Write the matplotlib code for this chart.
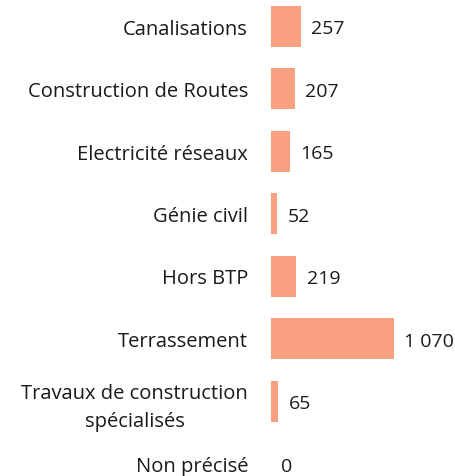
import matplotlib
matplotlib.use("Agg")
import matplotlib.pyplot as plt

plt.rcParams["font.family"] = ["Open Sans", "DejaVu Sans"]

# chart data
categories = [
    "Canalisations",
    "Construction de Routes",
    "Electricité réseaux",
    "Génie civil",
    "Hors BTP",
    "Terrassement",
    "Travaux de construction\nspécialisés",
    "Non précisé",
]
values = [257, 207, 165, 52, 219, 1070, 65, 0]

BAR_COLOR = "#F8A07F"
W, H = 456, 477

fig = plt.figure(figsize=(W / 100, H / 100), dpi=100)
ax = fig.add_axes([271 / W, 0, 123 / W, 1])

pos = range(len(categories))
ax.barh(pos, values, height=0.656, color=BAR_COLOR)
ax.set_xlim(0, 1070)
ax.set_ylim(7.2, -0.432)

ax.set_yticks(list(pos))
ax.set_yticklabels(categories, fontsize=14.5, color="#1a1a1a",
                   multialignment="center", linespacing=1.5)
ax.tick_params(axis="y", length=0, pad=16.5)
ax.set_xticks([])
for s in ax.spines.values():
    s.set_visible(False)

for i, v in enumerate(values):
    txt = f"{v:,}".replace(",", " ")
    ax.annotate(txt, (v, i), xytext=(7.5, -1.5), textcoords="offset points",
                ha="left", va="center", fontsize=14, color="#1a1a1a",
                annotation_clip=False)

fig.savefig("out.png", dpi=100)
